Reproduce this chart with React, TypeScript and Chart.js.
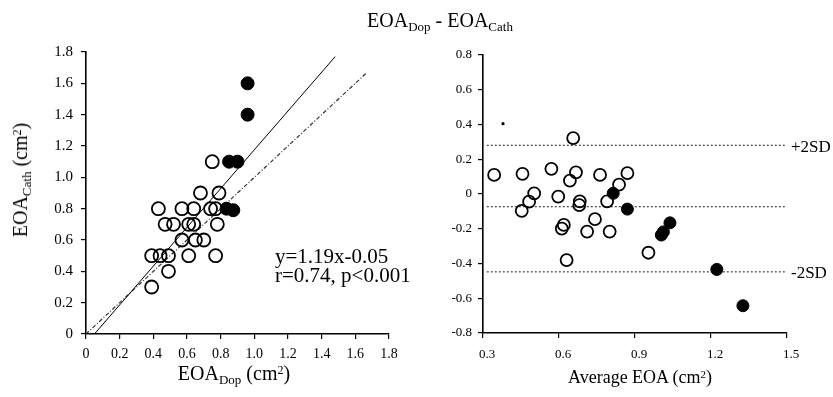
import React, { useEffect, useRef } from 'react';
import { Chart, registerables } from 'chart.js';
Chart.register(...registerables);

const FONT = '"Liberation Serif", "Times New Roman", serif';

// ---- Left panel: EOA_Dop vs EOA_Cath ----
const dopOpen = [0.43, 0.57, 0.64, 0.74, 0.77, 0.68, 0.79, 0.75, 0.47, 0.52, 0.61, 0.64, 0.78, 0.57, 0.65, 0.70, 0.39, 0.44, 0.49, 0.61, 0.77, 0.49, 0.39];
const cathOpen = [0.80, 0.80, 0.80, 0.80, 0.80, 0.90, 0.90, 1.10, 0.70, 0.70, 0.70, 0.70, 0.70, 0.60, 0.60, 0.60, 0.50, 0.50, 0.50, 0.50, 0.50, 0.40, 0.30];
const dopFilled = [0.96, 0.96, 0.85, 0.90, 0.835, 0.875];
const cathFilled = [1.60, 1.40, 1.10, 1.10, 0.80, 0.79];
const regLineX = [0.05, 1.48];
const regLineY = [0, 1.77];
const identityX = [0, 1.67];
const identityY = [0, 1.67];
const leftTicks = [0, 0.2, 0.4, 0.6, 0.8, 1.0, 1.2, 1.4, 1.6, 1.8];

// ---- Right panel: Bland-Altman ----
const avgOpen = [0.344, 0.456, 0.453, 0.482, 0.502, 0.57, 0.597, 0.667, 0.643, 0.682, 0.68, 0.611, 0.619, 0.63, 0.656, 0.762, 0.742, 0.711, 0.79, 0.80, 0.837, 0.87, 0.953];
const diffOpen = [0.11, 0.116, -0.097, -0.044, 0.004, 0.145, -0.015, 0.125, 0.077, -0.042, -0.064, -0.199, -0.178, -0.38, 0.322, 0.11, -0.145, -0.216, -0.042, -0.216, 0.054, 0.12, -0.338];
const avgFilled = [0.814, 0.87, 1.004, 1.012, 1.038, 1.223, 1.326];
const diffFilled = [0.004, -0.087, -0.236, -0.218, -0.166, -0.434, -0.643];
const avgDot = [0.379];
const diffDot = [0.405];
const sdUpper = 0.28;
const meanDiff = -0.073;
const sdLower = -0.448;
const sdLineX = [0.315, 1.492];
const rightXTicks = [0.3, 0.6, 0.9, 1.2, 1.5];
const rightYTicks = [-0.8, -0.6, -0.4, -0.2, 0, 0.2, 0.4, 0.6, 0.8];

const fmt = (v: number) => (Math.abs(v) < 1e-9 ? '0' : v.toFixed(1));
const pts = (xs: number[], ys: number[]) => xs.map((x, i) => ({ x, y: ys[i] }));

function axis(min: number, max: number, ticksArr: number[], size: number, padding: number, fit: (s: any) => void, extra: any = {}) {
  return {
    type: 'linear',
    min,
    max,
    afterBuildTicks: (s: any) => {
      s.ticks = ticksArr.map((v) => ({ value: v }));
    },
    ticks: {
      callback: (v: any) => fmt(Number(v)),
      font: { family: FONT, size },
      color: '#000',
      padding,
      autoSkip: false,
      maxRotation: 0,
      ...extra,
    },
    grid: { drawOnChartArea: false, drawTicks: true, tickLength: 5, color: '#000', lineWidth: 1.2 },
    border: { color: '#000', width: 1.6 },
    afterFit: fit,
  };
}

const openStyle = { pointRadius: 6.5, pointBorderWidth: 1.8, pointBorderColor: '#000', pointBackgroundColor: 'rgba(0,0,0,0)', showLine: false, order: 0 };
const filledStyle = { pointRadius: 6.5, pointBorderWidth: 1, pointBorderColor: '#000', pointBackgroundColor: '#000', showLine: false, order: 0 };

const leftText = {
  id: 'leftText',
  afterDraw(chart: any) {
    const ctx = chart.ctx;
    ctx.save();
    ctx.fillStyle = '#000';
    ctx.font = `21px ${FONT}`;
    ctx.textAlign = 'left';
    ctx.textBaseline = 'alphabetic';
    ctx.fillText('y=1.19x-0.05', 275, 263);
    ctx.fillText('r=0.74, p<0.001', 275, 282);
    ctx.restore();
  },
};

const rightText = {
  id: 'rightText',
  afterDraw(chart: any) {
    const ctx = chart.ctx;
    const xs = chart.scales.x;
    const ys = chart.scales.y;
    const xEnd = xs.getPixelForValue(sdLineX[1]);
    ctx.save();
    ctx.fillStyle = '#000';
    ctx.font = `17px ${FONT}`;
    ctx.textAlign = 'left';
    ctx.textBaseline = 'middle';
    ctx.fillText('+2SD', xEnd + 6, ys.getPixelForValue(sdUpper) + 2);
    ctx.fillText('-2SD', xEnd + 6, ys.getPixelForValue(sdLower) + 2);
    ctx.restore();
  },
};

const txt = (left: number, top: number, size: number, extra: any = {}) => ({
  position: 'absolute' as const,
  left,
  top,
  fontFamily: FONT,
  fontSize: size,
  lineHeight: 1,
  whiteSpace: 'nowrap' as const,
  color: '#000',
  transform: 'translate(-50%, -50%)',
  ...extra,
});
const subStyle = { fontSize: '0.65em', verticalAlign: '-0.3em', lineHeight: 0 };
const supStyle = { fontSize: '0.6em', verticalAlign: '0.5em', lineHeight: 0 };

export default function App() {
  const leftRef = useRef<HTMLCanvasElement>(null);
  const rightRef = useRef<HTMLCanvasElement>(null);

  useEffect(() => {
    const left = new Chart(leftRef.current as HTMLCanvasElement, {
      type: 'scatter',
      data: {
        datasets: [
          { data: pts(dopOpen, cathOpen), ...openStyle },
          { data: pts(dopFilled, cathFilled), ...filledStyle },
          { type: 'line', data: pts(regLineX, regLineY), showLine: true, borderColor: '#000', borderWidth: 1, pointRadius: 0, order: 2 },
          { type: 'line', data: pts(identityX, identityY), showLine: true, borderColor: '#333', borderWidth: 1.2, borderDash: [4, 2, 1, 2], pointRadius: 0, order: 2 },
        ] as any,
      },
      options: {
        animation: false,
        responsive: false,
        events: [],
        layout: { padding: { top: 52, right: 31, left: 0, bottom: 0 } },
        plugins: { legend: { display: false }, tooltip: { enabled: false }, title: { display: false } },
        scales: {
          x: axis(0, 1.8, leftTicks, 14, 7, (s: any) => { s.height = 63; }),
          y: axis(0, 1.8, leftTicks, 15, 8, (s: any) => { s.width = 86; }),
        } as any,
      },
      plugins: [leftText],
    });

    const right = new Chart(rightRef.current as HTMLCanvasElement, {
      type: 'scatter',
      data: {
        datasets: [
          { data: pts(avgOpen, diffOpen), ...openStyle, pointRadius: 6 },
          { data: pts(avgFilled, diffFilled), ...filledStyle, pointRadius: 6 },
          { data: pts(avgDot, diffDot), pointRadius: 1.6, pointBackgroundColor: '#000', pointBorderColor: '#000', pointBorderWidth: 0, showLine: false, order: 0 },
          { type: 'line', data: pts(sdLineX, [sdUpper, sdUpper]), showLine: true, borderColor: '#444', borderWidth: 1.2, borderDash: [2, 2], pointRadius: 0, order: 2 },
          { type: 'line', data: pts(sdLineX, [meanDiff, meanDiff]), showLine: true, borderColor: '#444', borderWidth: 1.2, borderDash: [2, 2], pointRadius: 0, order: 2 },
          { type: 'line', data: pts(sdLineX, [sdLower, sdLower]), showLine: true, borderColor: '#444', borderWidth: 1.2, borderDash: [2, 2], pointRadius: 0, order: 2 },
        ] as any,
      },
      options: {
        animation: false,
        responsive: false,
        events: [],
        layout: { padding: { top: 55, right: 46, left: 0, bottom: 0 } },
        plugins: { legend: { display: false }, tooltip: { enabled: false }, title: { display: false } },
        scales: {
          x: axis(0.3, 1.5, rightXTicks, 13, 9, (s: any) => { s.height = 64; }, { labelOffset: 4 }),
          y: axis(-0.8, 0.8, rightYTicks, 13, 6, (s: any) => { s.width = 63; }),
        } as any,
      },
      plugins: [rightText],
    });

    return () => {
      left.destroy();
      right.destroy();
    };
  }, []);

  return (
    <div style={{ position: 'absolute', left: 0, top: 0, width: 833, height: 397, background: '#fff', overflow: 'hidden' }}>
      <canvas ref={leftRef} width={420} height={397} style={{ position: 'absolute', left: 0, top: 0, width: 420, height: 397 }} />
      <canvas ref={rightRef} width={413} height={397} style={{ position: 'absolute', left: 420, top: 0, width: 413, height: 397 }} />
      <div style={txt(440, 20, 20)}>
        EOA<span style={subStyle}>Dop</span> - EOA<span style={subStyle}>Cath</span>
      </div>
      <div style={txt(234, 373, 20)}>
        EOA<span style={subStyle}>Dop</span> (cm<span style={supStyle}>2</span>)
      </div>
      <div style={txt(640, 377, 18)}>
        Average EOA (cm<span style={supStyle}>2</span>)
      </div>
      <div style={txt(20, 180, 20, { transform: 'translate(-50%, -50%) rotate(-90deg)' })}>
        EOA<span style={subStyle}>Cath</span> (cm<span style={supStyle}>2</span>)
      </div>
    </div>
  );
}
